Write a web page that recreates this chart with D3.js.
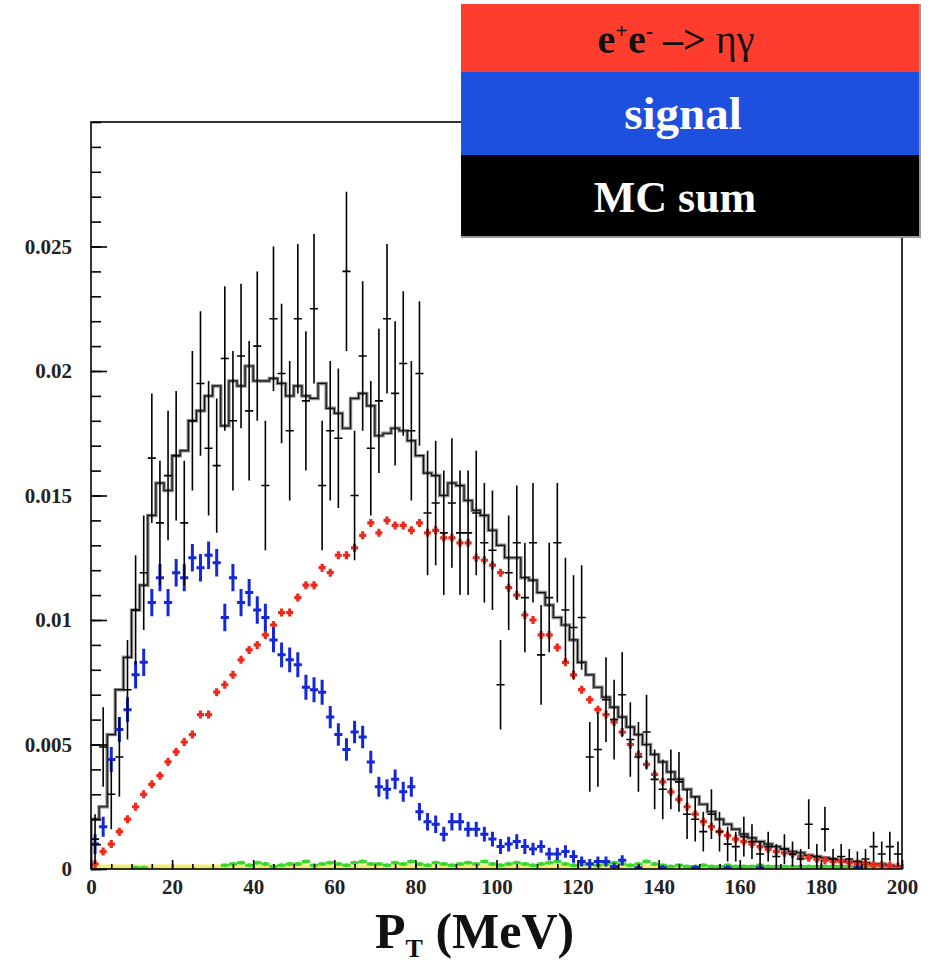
<!DOCTYPE html>
<html>
<head>
<meta charset="utf-8">
<script src="https://cdn.jsdelivr.net/npm/d3@7"></script>
<style>
  body { margin: 0; background: #fff; }
  svg text { font-family: "Liberation Serif", "DejaVu Serif", serif; font-weight: bold; }
</style>
</head>
<body>
<svg id="chart" width="931" height="962"></svg>
<script>
// 100 bins of 2 MeV, values in units of 1e-3
var binWidth = 2;

// data points (black) and their errors
var dataVal = [
  1.2, 4.9, 3.0, 4.5, 7.2, 10.4, 11.9, 16.5, 13.9, 15.8,
  16.6, 13.9, 18.0, 19.5, 16.9, 16.2, 20.5, 18.0, 20.6, 18.4,
  21.0, 15.4, 22.1, 19.9, 17.6, 22.1, 18.8, 22.5, 15.4, 17.6,
  17.3, 24.0, 15.0, 20.6, 16.9, 18.8, 22.1, 19.1, 20.3, 17.6,
  19.9, 14.3, 14.7, 13.5, 14.7, 13.5, 13.5, 14.3, 13.1, 12.8,
  7.4, 11.9, 13.1, 10.9, 13.1, 8.6, 10.9, 13.1, 10.4, 9.7,
  10.1, 4.5, 4.8, 6.8, 6.0, 7.0, 5.2, 4.5, 5.5, 3.6,
  3.2, 3.6, 3.5, 2.2, 2.0, 1.5, 2.2, 1.5, 1.0, 0.9,
  1.3, 1.1, 0.6, 0.9, 0.5, 0.8, 0.6, 0.4, 1.8, 0.5,
  1.6, 0.4, 0.5, 0.4, 0.3, 0.4, 0.9, 0.6, 0.9, 0.6
];
var dataErr = [
  1.0, 1.6, 1.4, 1.6, 2.0, 2.2, 2.3, 2.6, 2.5, 2.6,
  2.6, 2.5, 2.8, 2.9, 2.7, 2.7, 2.9, 2.8, 2.9, 2.8,
  3.0, 2.6, 2.9, 2.8, 2.8, 3.0, 2.8, 3.0, 2.6, 2.8,
  2.8, 3.2, 2.6, 3.0, 2.7, 2.9, 3.0, 2.9, 2.9, 2.8,
  2.9, 2.5, 2.5, 2.5, 2.6, 2.5, 2.5, 2.5, 2.4, 2.4,
  1.8, 2.3, 2.3, 2.2, 2.4, 2.0, 2.2, 2.4, 2.1, 2.1,
  2.1, 1.4, 1.5, 1.7, 1.6, 1.7, 1.5, 1.4, 1.5, 1.2,
  1.2, 1.2, 1.2, 1.0, 0.9, 0.8, 1.0, 0.8, 0.7, 0.6,
  0.8, 0.7, 0.5, 0.6, 0.5, 0.6, 0.5, 0.4, 1.0, 0.5,
  0.9, 0.4, 0.5, 0.4, 0.4, 0.4, 0.6, 0.5, 0.6, 0.5
];

// MC sum histogram
var mcSum = [
  2.0, 2.5, 5.4, 7.2, 8.5, 10.4, 11.4, 14.2, 15.5, 15.2,
  16.6, 16.8, 18.0, 18.4, 19.0, 19.4, 17.8, 19.6, 19.4, 20.2,
  19.6, 19.6, 19.7, 19.5, 19.0, 19.4, 19.0, 18.9, 19.5, 18.5,
  18.3, 17.7, 18.9, 19.1, 18.6, 17.4, 17.5, 17.7, 17.6, 17.2,
  16.6, 15.9, 15.8, 15.0, 15.5, 15.4, 14.8, 14.4, 14.2, 13.6,
  13.0, 12.5, 12.5, 11.7, 11.6, 11.1, 10.6, 10.1, 9.8, 9.2,
  8.3, 7.8, 7.3, 6.9, 6.5, 6.1, 5.7, 5.4, 5.0, 4.6,
  4.3, 3.9, 3.6, 3.2, 2.9, 2.6, 2.3, 2.0, 1.8, 1.6,
  1.4, 1.25, 1.1, 1.0, 0.9, 0.8, 0.7, 0.65, 0.55, 0.5,
  0.45, 0.4, 0.35, 0.3, 0.3, 0.25, 0.2, 0.2, 0.15, 0.1
];

// e+e- -> eta gamma (red)
var etaGamma = [
  0.2, 0.7, 1.0, 1.5, 2.0, 2.5, 3.0, 3.4, 3.75, 4.3,
  4.7, 5.1, 5.4, 6.2, 6.2, 7.1, 7.4, 7.8, 8.4, 8.8,
  9.0, 9.4, 9.8, 10.3, 10.3, 10.9, 11.4, 11.4, 12.1, 11.9,
  12.6, 12.6, 12.9, 13.4, 13.9, 13.5, 14.0, 13.8, 13.8, 13.6,
  13.9, 13.5, 13.6, 13.3, 13.3, 13.1, 13.1, 12.5, 12.4, 12.2,
  11.9, 11.3, 11.0, 10.2, 10.0, 9.4, 9.4, 8.9, 8.3, 7.8,
  7.2, 6.8, 6.4, 6.2, 5.9, 5.5, 5.0, 4.6, 4.2, 3.8,
  3.5, 3.1, 2.8, 2.5, 2.2, 1.9, 1.7, 1.5, 1.35, 1.2,
  1.1, 1.0, 0.9, 0.8, 0.7, 0.65, 0.6, 0.5, 0.45, 0.4,
  0.35, 0.3, 0.3, 0.25, 0.2, 0.2, 0.15, 0.15, 0.12, 0.1
];

// signal (blue) and its errors
var signal = [
  1.0, 1.7, 4.4, 5.6, 6.4, 7.8, 8.3, 10.7, 11.7, 10.7,
  11.9, 11.7, 12.5, 12.1, 12.6, 12.3, 10.1, 11.7, 10.7, 11.1,
  10.4, 10.1, 9.2, 8.6, 8.4, 8.2, 7.3, 7.2, 7.1, 6.1,
  5.4, 4.8, 5.5, 5.3, 4.3, 3.3, 3.2, 3.6, 3.1, 3.3,
  2.3, 1.9, 1.8, 1.4, 1.9, 1.9, 1.6, 1.6, 1.4, 1.2,
  0.9, 1.0, 1.1, 0.9, 0.8, 0.9, 0.6, 0.6, 0.7, 0.5,
  0.3, 0.2, 0.3, 0.3, 0.1, 0.35, 0, 0.05, 0, 0,
  0.05, 0, 0, 0, 0.05, 0, 0, 0, 0.05, 0,
  0, 0, 0.05, 0, 0, 0, 0, 0, 0, 0,
  0, 0, 0, 0, 0.05, 0, 0, 0, 0, 0
];
var signalErr = [
  0.4, 0.4, 0.5, 0.5, 0.5, 0.55, 0.55, 0.55, 0.55, 0.55,
  0.55, 0.55, 0.55, 0.55, 0.55, 0.55, 0.55, 0.55, 0.55, 0.55,
  0.55, 0.55, 0.5, 0.5, 0.5, 0.5, 0.5, 0.5, 0.5, 0.45,
  0.45, 0.45, 0.45, 0.45, 0.45, 0.4, 0.4, 0.4, 0.4, 0.4,
  0.35, 0.35, 0.35, 0.3, 0.35, 0.35, 0.3, 0.3, 0.3, 0.3,
  0.3, 0.3, 0.3, 0.3, 0.25, 0.25, 0.25, 0.25, 0.25, 0.25,
  0.2, 0.2, 0.2, 0.2, 0.15, 0.2, 0.1, 0.1, 0.1, 0.1,
  0.1, 0.1, 0.1, 0.1, 0.1, 0.1, 0.1, 0.1, 0.1, 0.1,
  0.1, 0.1, 0.1, 0.1, 0.1, 0.1, 0.1, 0.1, 0.1, 0.1,
  0.1, 0.1, 0.1, 0.1, 0.1, 0.1, 0.1, 0.1, 0.1, 0.1
];

// small backgrounds near zero
var greenBkg = [
  0, 0, 0, 0, 0, 0.05, 0.05, 0, 0, 0,
  0, 0, 0, 0, 0, 0, 0.15, 0.2, 0.25, 0.15,
  0.25, 0.2, 0.1, 0.15, 0.2, 0.2, 0.3, 0.15, 0.2, 0.25,
  0.2, 0.15, 0.25, 0.3, 0.2, 0.2, 0.15, 0.25, 0.2, 0.3,
  0.2, 0.15, 0.25, 0.2, 0.15, 0.2, 0.25, 0.2, 0.3, 0.2,
  0.15, 0.2, 0.25, 0.2, 0.15, 0.2, 0.25, 0.3, 0.2, 0.15,
  0.2, 0.2, 0.15, 0.2, 0.25, 0.2, 0.15, 0.2, 0.3, 0.2,
  0.15, 0.1, 0.15, 0.1, 0.1, 0.15, 0.1, 0.1, 0.15, 0.1,
  0.1, 0.1, 0.15, 0.1, 0.1, 0.1, 0.1, 0.1, 0.1, 0.1,
  0.1, 0.1, 0.1, 0.1, 0.1, 0.1, 0.1, 0.1, 0.1, 0.1
];
var yellowBkg = [
  0.1, 0.1, 0.1, 0.1, 0.1, 0.1, 0.1, 0.1, 0.1, 0.1,
  0.1, 0.1, 0.1, 0.1, 0.1, 0.1, 0.1, 0.1, 0.1, 0.1,
  0.1, 0.1, 0.1, 0.1, 0.1, 0.1, 0.1, 0.1, 0.1, 0.1,
  0.1, 0.1, 0.1, 0.1, 0.1, 0.1, 0.1, 0.1, 0.1, 0.1,
  0.1, 0.1, 0.1, 0.1, 0.1, 0.1, 0.1, 0.1, 0.1, 0.1,
  0.1, 0.1, 0.1, 0.1, 0.1, 0.1, 0.1, 0.1, 0.1, 0.1,
  0.1, 0.1, 0.1, 0.1, 0.1, 0.1, 0.1, 0.1, 0.1, 0.1,
  0.05, 0.05, 0.05, 0.05, 0.05, 0.05, 0.05, 0.05, 0.05, 0.05,
  0.05, 0.05, 0.05, 0.05, 0.05, 0.05, 0.05, 0.05, 0.05, 0.05,
  0.05, 0.05, 0.05, 0.05, 0.05, 0.05, 0.05, 0.05, 0.05, 0.05
];

var xMajor = [0, 20, 40, 60, 80, 100, 120, 140, 160, 180, 200];
var yMajor = [0, 0.005, 0.01, 0.015, 0.02, 0.025];
var legendLabels = ["signal", "MC sum"];

var unit = 1e-3;
var svg = d3.select("#chart");

var x = d3.scaleLinear().domain([0, 200]).range([91, 902]);
var y = d3.scaleLinear().domain([0, 0.030]).range([869, 122]);

svg.append("defs").append("clipPath").attr("id", "frame")
  .append("rect").attr("x", 91).attr("y", 122).attr("width", 811).attr("height", 747);

var plot = svg.append("g").attr("clip-path", "url(#frame)");

function rows(vals, errs) {
  return vals.map(function (v, i) {
    return { lo: i * binWidth, hi: (i + 1) * binWidth, mid: (i + 0.5) * binWidth,
             v: v * unit, e: errs ? errs[i] * unit : 0 };
  });
}

// yellow + green backgrounds along the axis
var stepLine = d3.line().curve(d3.curveStepAfter).x(function (d) { return x(d[0]); }).y(function (d) { return y(d[1]); });
function stepPoints(vals) {
  var pts = vals.map(function (v, i) { return [i * binWidth, v * unit]; });
  pts.push([200, vals[vals.length - 1] * unit]);
  return pts;
}
plot.append("path").attr("d", stepLine(stepPoints(yellowBkg)))
  .attr("fill", "none").attr("stroke", "#f2ee6a").attr("stroke-width", 4);

plot.append("g").selectAll("path").data(rows(greenBkg).filter(function (d) { return d.v > 0; }))
  .join("path")
  .attr("d", function (d) {
    return "M" + x(d.lo) + "," + y(d.v) + "H" + x(d.hi) + "M" + x(d.mid) + "," + (y(d.v) - 2) + "V" + (y(d.v) + 2);
  })
  .attr("stroke", "#36d92a").attr("stroke-width", 3).attr("fill", "none");

// MC sum: gray thick step with black thin on top
var mcPts = [[0, 0]].concat(stepPoints(mcSum));
plot.append("path").attr("d", stepLine(mcPts))
  .attr("fill", "none").attr("stroke", "#8a8a8a").attr("stroke-width", 3.5);
plot.append("path").attr("d", stepLine(mcPts))
  .attr("fill", "none").attr("stroke", "#111").attr("stroke-width", 1.2);

// e+e- -> eta gamma (red crosses)
plot.append("g").selectAll("path").data(rows(etaGamma).filter(function (d) { return d.v > 0; }))
  .join("path")
  .attr("d", function (d) {
    return "M" + (x(d.lo) + 0.5) + "," + y(d.v) + "H" + (x(d.hi) - 0.5) +
      "M" + x(d.mid) + "," + (y(d.v) - 4) + "V" + (y(d.v) + 4);
  })
  .attr("stroke", "#ee2a1c").attr("stroke-width", 3.2).attr("fill", "none");

// signal (blue)
plot.append("g").selectAll("path").data(rows(signal, signalErr).filter(function (d) { return d.v > 0; }))
  .join("path")
  .attr("d", function (d) {
    var ey = Math.max(y(d.v) - y(d.v + d.e), 1.5);
    return "M" + x(d.lo) + "," + y(d.v) + "H" + x(d.hi) +
      "M" + x(d.mid) + "," + (y(d.v) - ey) + "V" + (y(d.v) + ey);
  })
  .attr("stroke", "#1428d8").attr("stroke-width", 3).attr("fill", "none");

// data points (black)
plot.append("g").selectAll("path").data(rows(dataVal, dataErr))
  .join("path")
  .attr("d", function (d) {
    return "M" + x(d.lo) + "," + y(d.v) + "H" + x(d.hi) +
      "M" + x(d.mid) + "," + y(d.v + d.e) + "V" + y(Math.max(d.v - d.e, 0));
  })
  .attr("stroke", "#000").attr("stroke-width", 1.6).attr("fill", "none");

// frame
svg.append("rect").attr("x", 91).attr("y", 122).attr("width", 811).attr("height", 747)
  .attr("fill", "none").attr("stroke", "#000").attr("stroke-width", 1.6);

// axes, ticks inside the frame
var yAxis = svg.append("g").attr("transform", "translate(91,0)")
  .call(d3.axisLeft(y).tickValues(yMajor).tickSize(-16).tickPadding(19)
    .tickFormat(function (d) { return d === 0 ? "0" : String(+d.toFixed(3)); }));
svg.append("g").attr("transform", "translate(91,0)")
  .call(d3.axisLeft(y).tickValues(d3.range(0, 0.0301, 0.001)).tickSize(-10).tickFormat(""));
var xAxis = svg.append("g").attr("transform", "translate(0,869)")
  .call(d3.axisBottom(x).tickValues(xMajor).tickSize(-9).tickPadding(10));
svg.append("g").attr("transform", "translate(0,869)")
  .call(d3.axisBottom(x).tickValues(d3.range(0, 201, 5)).tickSize(-5).tickFormat(""));

svg.selectAll(".domain").remove();
svg.selectAll(".tick line").attr("stroke", "#000").attr("stroke-width", 1.6);
yAxis.selectAll("text").attr("font-size", 21).attr("fill", "#222")
  .style("font-family", '"Liberation Serif", serif');
xAxis.selectAll("text").attr("font-size", 21).attr("fill", "#222")
  .style("font-family", '"Liberation Serif", serif');

// x axis title
var title = svg.append("text").attr("x", 375).attr("y", 948).attr("font-size", 50).attr("fill", "#111");
title.append("tspan").text("P");
title.append("tspan").attr("font-size", 26).attr("dy", 9).text("T");
title.append("tspan").attr("dy", -9).text(" (MeV)");

// legend
var lg = svg.append("g");
lg.append("rect").attr("x", 462).attr("y", 5).attr("width", 458).attr("height", 232)
  .attr("fill", "none").attr("stroke", "#999").attr("stroke-width", 2);
lg.append("rect").attr("x", 461).attr("y", 4).attr("width", 458).attr("height", 68).attr("fill", "#ff3d2e");
lg.append("rect").attr("x", 461).attr("y", 72).attr("width", 458).attr("height", 83).attr("fill", "#1d50df");
lg.append("rect").attr("x", 461).attr("y", 155).attr("width", 458).attr("height", 81).attr("fill", "#000");

var t1 = lg.append("text").attr("x", 676).attr("y", 53).attr("text-anchor", "middle")
  .attr("font-size", 40).attr("fill", "#111");
t1.append("tspan").text("e");
t1.append("tspan").attr("font-size", 22).attr("dy", -15).text("+");
t1.append("tspan").attr("dy", 15).text("e");
t1.append("tspan").attr("font-size", 22).attr("dy", -15).text("-");
t1.append("tspan").attr("dy", 15).text(" \u2013> ");
t1.append("tspan").attr("font-weight", "normal").text("\u03b7\u03b3");

lg.append("text").attr("x", 683).attr("y", 129).attr("text-anchor", "middle")
  .attr("font-size", 47).attr("fill", "#fff").text(legendLabels[0]);
lg.append("text").attr("x", 675).attr("y", 212).attr("text-anchor", "middle")
  .attr("font-size", 44).attr("fill", "#fff").text(legendLabels[1]);
</script>
</body>
</html>
